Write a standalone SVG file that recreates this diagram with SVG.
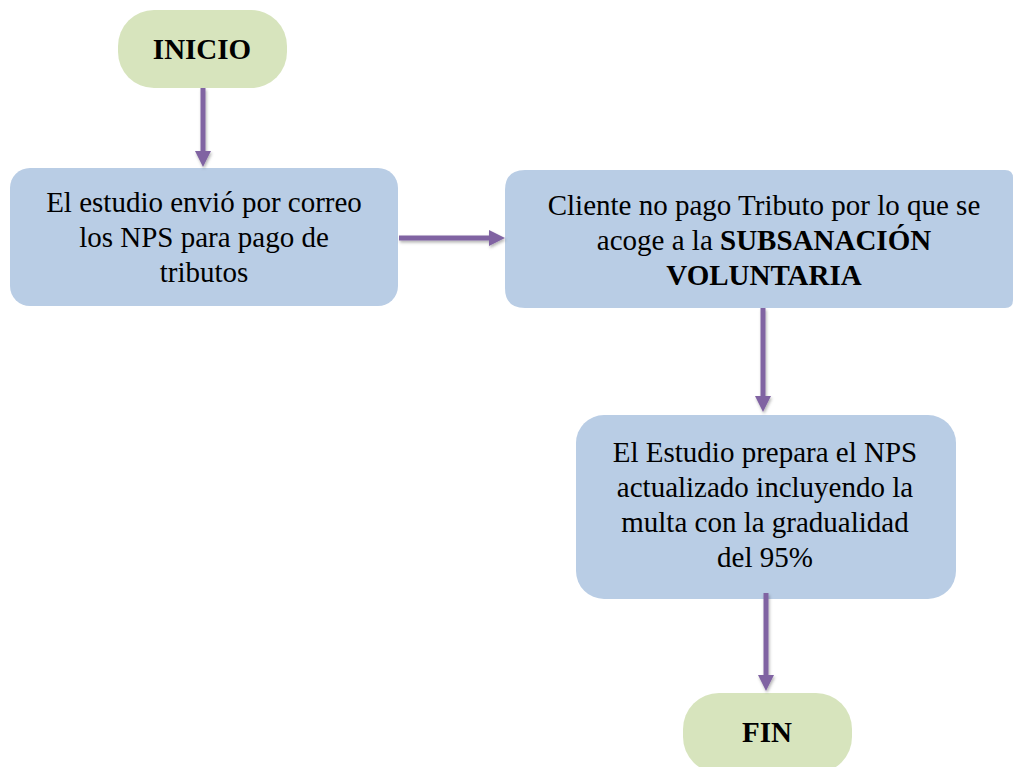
<svg xmlns="http://www.w3.org/2000/svg" width="1013" height="767" viewBox="0 0 1013 767">
<style>
  .term { fill: #d7e4bd; }
  .proc { fill: #b9cde5; }
  .txt { font-family: "Liberation Serif", "Times New Roman", serif; font-size: 29px; fill: #000; text-anchor: middle; }
  .b { font-weight: bold; }
  .conn { stroke: #8064a2; stroke-width: 5; fill: none; marker-end: url(#ah); }
</style>
<defs>
  <marker id="ah" markerUnits="userSpaceOnUse" markerWidth="16" markerHeight="16" viewBox="0 0 16 16" refX="6" refY="8" orient="auto">
    <path d="M0,0 L16,8 L0,16 z" fill="#8064a2"/>
  </marker>
  <filter id="sh" filterUnits="userSpaceOnUse" x="0" y="0" width="1013" height="767">
    <feDropShadow dx="1" dy="2" stdDeviation="1.5" flood-color="#000" flood-opacity="0.3"/>
  </filter>
</defs>
<rect width="1013" height="767" fill="#ffffff"/>
<g id="inicio">
  <rect class="term" x="118" y="10" width="169" height="78" rx="36" ry="36"/>
  <text class="txt b" x="202" y="59">INICIO</text>
</g>
<g id="envio">
  <rect class="proc" x="10" y="168" width="388" height="138" rx="20" ry="20"/>
  <text class="txt" x="204" y="212">El estudio envió por correo</text>
  <text class="txt" x="204" y="247">los NPS para pago de</text>
  <text class="txt" x="204" y="282">tributos</text>
</g>
<g id="cliente">
  <path class="proc" d="M525,170 H1005 Q1013,170 1013,178 V300 Q1013,308 1005,308 H525 Q505,308 505,288 V190 Q505,170 525,170 z"/>
  <text class="txt" x="764" y="215">Cliente no pago Tributo por lo que se</text>
  <text class="txt" x="764" y="250">acoge a la <tspan class="b">SUBSANACIÓN</tspan></text>
  <text class="txt b" x="764" y="285">VOLUNTARIA</text>
</g>
<g id="prepara">
  <rect class="proc" x="576" y="415" width="380" height="184" rx="28" ry="28"/>
  <text class="txt" x="765" y="462">El Estudio prepara el NPS</text>
  <text class="txt" x="765" y="497">actualizado incluyendo la</text>
  <text class="txt" x="765" y="532">multa con la gradualidad</text>
  <text class="txt" x="765" y="567">del 95%</text>
</g>
<g id="fin">
  <rect class="term" x="683" y="693" width="169" height="80" rx="36" ry="36"/>
  <text class="txt b" x="767" y="742">FIN</text>
</g>
<g id="connectors" filter="url(#sh)">
  <path class="conn" d="M203,88 V157"/>
  <path class="conn" d="M399,238 H495"/>
  <path class="conn" d="M763,308 V402"/>
  <path class="conn" d="M766,593 V681"/>
</g>
</svg>
